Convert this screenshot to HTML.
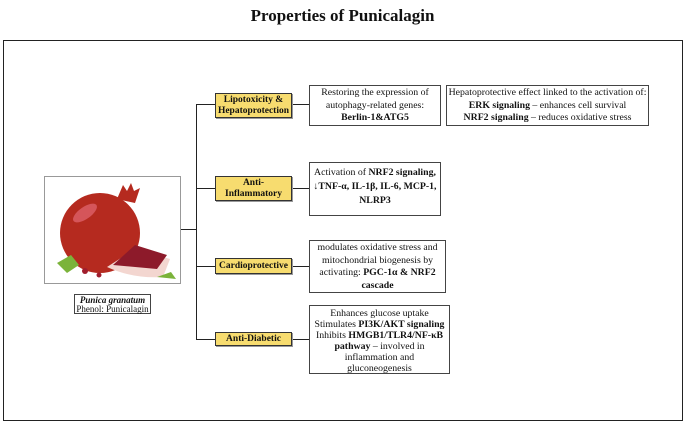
<!DOCTYPE html>
<html><head><style>
body{margin:0;width:685px;height:424px;background:#fff;font-family:"Liberation Serif",serif;position:relative;overflow:hidden;color:#111}
.a{position:absolute;box-sizing:border-box}
.t{font-weight:bold;font-size:17px;left:0;width:685px;text-align:center;top:6px}
.y{background:#f7dc6f;border:1px solid #333;box-shadow:1px 1px 0 #999;font-weight:bold;font-size:9.5px;text-align:center;line-height:11px;display:flex;align-items:center;justify-content:center;left:215px;width:77px}
.b{border:1px solid #444;font-size:9.8px;text-align:center;line-height:12.5px;padding-top:1px}
.l{background:#222}
</style></head><body>
<div class="a t">Properties of Punicalagin</div>
<div class="a" style="left:3px;top:40px;width:680px;height:381px;border:1px solid #222"></div>
<div class="a" style="left:44px;top:176px;width:137px;height:108px;border:1px solid #999">
<svg width="135" height="106" viewBox="0 0 135 106">
<ellipse cx="55" cy="56" rx="40" ry="40" fill="#b52a1f"/>
<path d="M72 22 L78 8 L82 14 L86 6 L89 14 L95 11 L90 26 Z" fill="#b52a1f"/>
<ellipse cx="40" cy="36" rx="14" ry="6" fill="#d5555a" transform="rotate(-35 40 36)"/>
<path d="M62 90 L90 72 L125 82 L118 100 Q88 102 62 90Z" fill="#f3d6d0"/>
<path d="M68 88 L90 68 L122 78 L112 92 Z" fill="#8d1a2a"/>
<path d="M12 86 L26 78 L34 88 L22 96Z" fill="#7bb33a"/>
<path d="M112 100 L126 95 L131 102Z" fill="#7bb33a"/>
<circle cx="40" cy="94" r="3" fill="#a01d2d"/><circle cx="54" cy="98" r="2.5" fill="#a01d2d"/>
</svg></div>
<div class="a b" style="left:74px;top:294px;width:77px;height:20px;line-height:9px;padding-top:1px;font-size:9px"><b><i>Punica granatum</i></b><br>Phenol: Punicalagin</div>
<div class="a l" style="left:181px;top:229px;width:16px;height:1px"></div>
<div class="a l" style="left:196px;top:104px;width:1px;height:236px"></div>
<div class="a l" style="left:196px;top:104px;width:19px;height:1px"></div>
<div class="a l" style="left:196px;top:188px;width:19px;height:1px"></div>
<div class="a l" style="left:196px;top:266px;width:19px;height:1px"></div>
<div class="a l" style="left:196px;top:339px;width:19px;height:1px"></div>
<div class="a l" style="left:292px;top:104px;width:17px;height:1px"></div>
<div class="a l" style="left:292px;top:188px;width:17px;height:1px"></div>
<div class="a l" style="left:292px;top:266px;width:17px;height:1px"></div>
<div class="a l" style="left:292px;top:339px;width:17px;height:1px"></div>
<div class="a y" style="top:93px;height:25px">Lipotoxicity &amp;<br>Hepatoprotection</div>
<div class="a y" style="top:176px;height:25px">Anti-<br>Inflammatory</div>
<div class="a y" style="top:258px;height:16px">Cardioprotective</div>
<div class="a y" style="top:332px;height:14px">Anti-Diabetic</div>
<div class="a b" style="left:309px;top:85px;width:132px;height:41px">Restoring the expression of<br>autophagy-related genes:<br><b>Berlin-1&amp;ATG5</b></div>
<div class="a b" style="left:446px;top:85px;width:203px;height:41px">Hepatoprotective effect linked to the activation of:<br><b>ERK signaling</b> – enhances cell survival<br><b>NRF2 signaling</b> – reduces oxidative stress</div>
<div class="a b" style="left:309px;top:162px;width:132px;height:54px;padding-top:3px;line-height:14px">Activation of <b>NRF2 signaling,</b><br>↓<b>TNF-α, IL-1β, IL-6, MCP-1,</b><br><b>NLRP3</b></div>
<div class="a b" style="left:309px;top:240px;width:137px;height:53px">modulates oxidative stress and<br>mitochondrial biogenesis by<br>activating: <b>PGC-1α &amp; NRF2</b><br><b>cascade</b></div>
<div class="a b" style="left:309px;top:305px;width:141px;height:69px;line-height:11px;padding-top:2px">Enhances glucose uptake<br>Stimulates <b>PI3K/AKT signaling</b><br>Inhibits <b>HMGB1/TLR4/NF-κB</b><br><b>pathway</b> – involved in<br>inflammation and<br>gluconeogenesis</div>
</body></html>
